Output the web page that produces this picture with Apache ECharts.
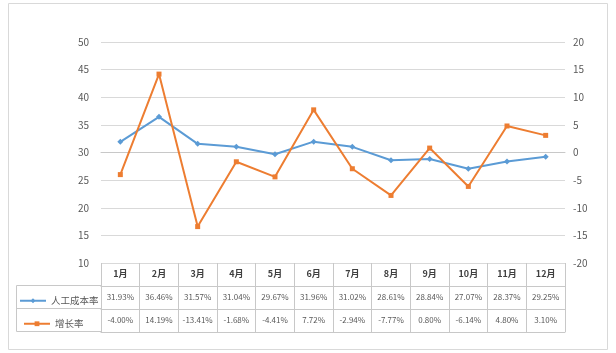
<!DOCTYPE html>
<html>
<head>
<meta charset="utf-8">
<script src="https://cdn.jsdelivr.net/npm/echarts@6/dist/echarts.min.js"></script>
<style>
  html, body { margin: 0; padding: 0; background: #fff; }
  #main { width: 616px; height: 353px; }
</style>
</head>
<body>
<div id="main"></div>
<script>
// 月份
const months = ['1月', '2月', '3月', '4月', '5月', '6月', '7月', '8月', '9月', '10月', '11月', '12月'];
// 人工成本率 (%)
const costRate = [31.93, 36.46, 31.57, 31.04, 29.67, 31.96, 31.02, 28.61, 28.84, 27.07, 28.37, 29.25];
// 增长率 (%)
const growthRate = [-4.00, 14.19, -13.41, -1.68, -4.41, 7.72, -2.94, -7.77, 0.80, -6.14, 4.80, 3.10];

const gridColor = '#d9d9d9';
const tableColor = '#c8c8c8';
const textColor = '#595959';
const font = '"Noto Sans CJK SC", "Noto Sans", sans-serif';

const pct = (v) => v.toFixed(2) + '%';

const chart = echarts.init(document.getElementById('main'));

// 表格的一行 = 一条偏移的类目轴
const tableRow = (offset, labels, opts) => ({
  type: 'category',
  position: 'bottom',
  offset: offset,
  data: labels,
  boundaryGap: true,
  axisLine: { show: true, lineStyle: { color: tableColor, width: 1 } },
  axisTick: { show: false },
  axisLabel: {
    show: true,
    interval: 0,
    margin: 7,
    color: textColor,
    fontSize: 8,
    fontFamily: font,
  },
  ...opts,
});

const legendCell = (name, top, left) => ({
  orient: 'horizontal',
  left: left,
  top: top,
  itemWidth: 26,
  itemHeight: 6,
  textStyle: { color: textColor, fontSize: 9.5, fontFamily: font },
  data: [name],
});

chart.setOption({
  animation: false,
  textStyle: { fontFamily: font },
  grid: { left: 101, right: 51, top: 42, bottom: 90, containLabel: false },
  legend: [
    legendCell('人工成本率', 291, 14),
    legendCell('增长率', 314, 18),
  ],
  xAxis: [
    tableRow(0, months, {
      axisLabel: { show: true, interval: 0, margin: 6, color: '#404040', fontSize: 9, fontWeight: 'bold', fontFamily: font },
    }),
    tableRow(23, costRate.map(pct)),
    tableRow(46, growthRate.map(pct)),
    tableRow(69, months, {
      axisLabel: { show: false },
      axisTick: { show: true, inside: true, length: 69, interval: 0, lineStyle: { color: tableColor } },
    }),
  ],
  yAxis: [
    {
      type: 'value',
      min: 10,
      max: 50,
      interval: 5,
      axisLine: { show: false },
      axisTick: { show: false },
      axisLabel: { color: textColor, fontSize: 10, margin: 12 },
      splitLine: { show: true, lineStyle: { color: gridColor, width: 1 } },
    },
    {
      type: 'value',
      min: -20,
      max: 20,
      interval: 5,
      position: 'right',
      axisLine: { show: false },
      axisTick: { show: false },
      axisLabel: { color: textColor, fontSize: 10, margin: 8 },
      splitLine: { show: false },
    },
  ],
  graphic: [
    { type: 'rect', shape: { x: 8.5, y: 3.5, width: 599, height: 346 }, style: { fill: null, stroke: '#d9d9d9', lineWidth: 1 }, silent: true },
    { type: 'line', shape: { x1: 16.5, y1: 285.5, x2: 101, y2: 285.5 }, style: { stroke: tableColor, lineWidth: 1 } },
    { type: 'line', shape: { x1: 16.5, y1: 308.5, x2: 101, y2: 308.5 }, style: { stroke: tableColor, lineWidth: 1 } },
    { type: 'line', shape: { x1: 16.5, y1: 331.5, x2: 101, y2: 331.5 }, style: { stroke: tableColor, lineWidth: 1 } },
    { type: 'line', shape: { x1: 16.5, y1: 285.5, x2: 16.5, y2: 331.5 }, style: { stroke: tableColor, lineWidth: 1 } },
  ],
  series: [
    {
      name: '人工成本率',
      type: 'line',
      xAxisIndex: 0,
      yAxisIndex: 0,
      data: costRate,
      symbol: 'diamond',
      symbolSize: 6,
      itemStyle: { color: '#5b9bd5' },
      lineStyle: { color: '#5b9bd5', width: 2 },
    },
    {
      name: '增长率',
      type: 'line',
      xAxisIndex: 0,
      yAxisIndex: 1,
      data: growthRate,
      symbol: 'rect',
      symbolSize: 5,
      itemStyle: { color: '#ed7d31' },
      lineStyle: { color: '#ed7d31', width: 2 },
    },
  ],
});
</script>
</body>
</html>
